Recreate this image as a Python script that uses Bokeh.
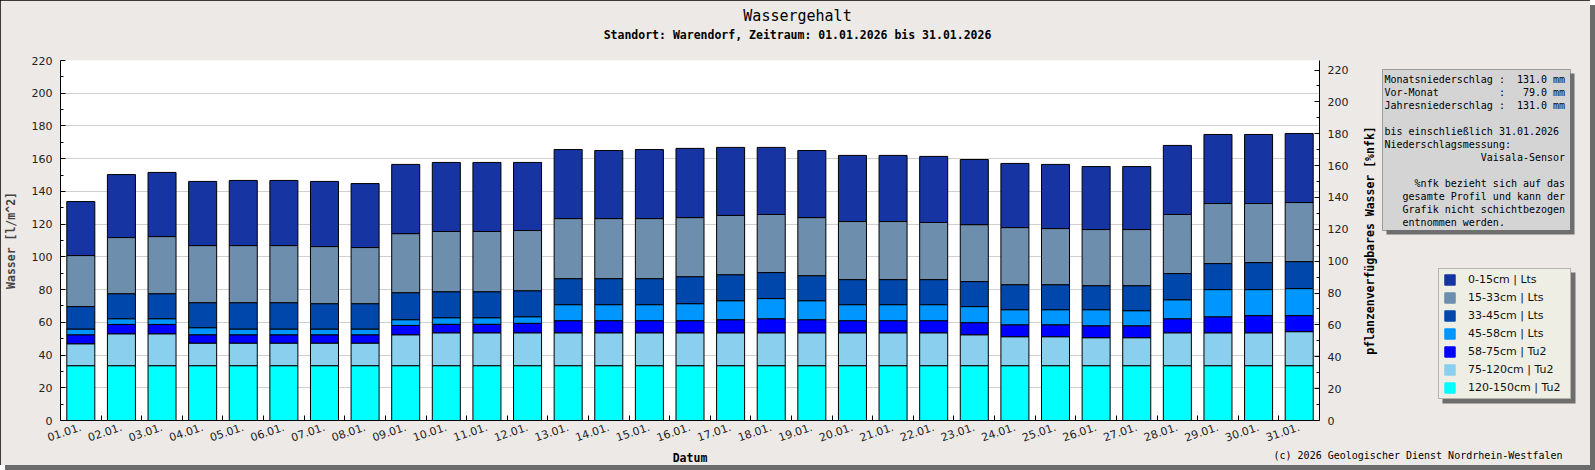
from bokeh.plotting import figure
from bokeh.models import (Range1d, LinearAxis, FixedTicker, Label, BoxAnnotation, Legend,
                          LegendItem, ColumnDataSource, GridBox)
from bokeh.embed import file_html
from bokeh.resources import INLINE

# ---------------- data ----------------
days = list(range(1, 32))
dates = ["01.01.", "02.01.", "03.01.", "04.01.", "05.01.", "06.01.", "07.01.", "08.01.",
         "09.01.", "10.01.", "11.01.", "12.01.", "13.01.", "14.01.", "15.01.", "16.01.",
         "17.01.", "18.01.", "19.01.", "20.01.", "21.01.", "22.01.", "23.01.", "24.01.",
         "25.01.", "26.01.", "27.01.", "28.01.", "29.01.", "30.01.", "31.01."]

layer_names = ["0-15cm | Lts", "15-33cm | Lts", "33-45cm | Lts", "45-58cm | Lts",
               "58-75cm | Tu2", "75-120cm | Tu2", "120-150cm | Tu2"]
layer_colors = ["#1634A2", "#6E8EAE", "#0047AB", "#0096FF", "#0000FF", "#8ACFEE", "#00FFFF"]

w_0_15 = [33.0, 38.5, 39.2, 39.2, 39.8, 39.8, 39.8, 39.1, 42.3, 42.2, 42.2, 41.6, 42.2, 41.6,
          42.2, 42.3, 41.6, 41.0, 41.0, 40.4, 40.4, 40.4, 39.8, 39.2, 39.2, 38.5, 38.5, 42.2,
          42.2, 42.2, 42.2]
w_15_33 = [31.2, 34.3, 34.9, 34.9, 34.9, 34.9, 34.9, 34.3, 36.1, 36.8, 36.8, 36.8, 36.7, 36.7,
           36.7, 36.1, 36.2, 35.5, 35.5, 35.5, 35.5, 34.9, 34.8, 34.9, 34.3, 34.3, 34.3, 36.1,
           36.7, 36.1, 36.1]
w_33_45 = [13.7, 15.3, 15.3, 15.3, 16.1, 16.1, 15.5, 15.5, 16.5, 15.9, 15.9, 15.9, 15.9, 15.9,
           15.9, 16.5, 15.9, 15.9, 15.3, 15.3, 15.3, 15.3, 15.3, 15.3, 15.3, 14.7, 15.3, 16.0,
           15.9, 16.5, 16.5]
w_45_58 = [3.5, 3.5, 3.5, 4.3, 3.5, 3.5, 3.5, 3.5, 3.5, 4.0, 4.0, 4.0, 9.8, 9.8, 9.8, 10.4,
           11.6, 12.3, 11.6, 9.8, 9.8, 9.8, 9.8, 9.2, 9.2, 9.8, 9.2, 11.6, 16.6, 15.9, 16.5]
w_58_75 = [5.5, 5.7, 5.7, 5.1, 5.1, 5.1, 5.1, 5.1, 5.7, 5.2, 5.2, 5.8, 7.4, 7.4, 7.4, 7.4,
           8.0, 8.6, 8.0, 7.4, 7.4, 7.4, 7.4, 7.3, 7.3, 7.3, 7.3, 8.6, 9.8, 10.5, 9.8]
w_75_120 = [13.4, 19.5, 19.5, 13.8, 13.8, 13.8, 13.8, 13.8, 18.9, 20.1, 20.1, 20.1, 20.1, 20.1,
            20.1, 20.1, 20.1, 20.1, 20.1, 20.1, 20.1, 20.1, 18.9, 17.7, 17.7, 17.1, 17.1, 20.1,
            20.1, 20.1, 20.8]
w_120_150 = [33.5] * 31

y_ticks_left = [0, 20, 40, 60, 80, 100, 120, 140, 160, 180, 200, 220]
y_ticks_right = [0, 20, 40, 60, 80, 100, 120, 140, 160, 180, 200, 220]

title_text = "Wassergehalt"
subtitle_text = "Standort: Warendorf, Zeitraum: 01.01.2026 bis 31.01.2026"
ylabel_left = "Wasser [l/m^2]"
ylabel_right = "pflanzenverfügbares Wasser [%nfk]"
xlabel = "Datum"
copyright_text = "(c) 2026 Geologischer Dienst Nordrhein-Westfalen"

# (text, indent in characters or "right")
info_lines = [
    ("Monatsniederschlag :  131.0 mm", 0),
    ("Vor-Monat          :   79.0 mm", 0),
    ("Jahresniederschlag :  131.0 mm", 0),
    ("", 0),
    ("bis einschließlich 31.01.2026", 0),
    ("Niederschlagsmessung:", 0),
    ("Vaisala-Sensor", "right"),
    ("", 0),
    ("%nfk bezieht sich auf das", 5),
    ("gesamte Profil und kann der", 3),
    ("Grafik nicht schichtbezogen", 3),
    ("entnommen werden.", 3),
]

# ---------------- styling constants ----------------
W, H = 1590, 465
BG = "#ECE9E7"
MONO = "DejaVu Sans Mono"
SANS = "DejaVu Sans"

# ---------------- main chart ----------------
src = ColumnDataSource(dict(day=days, l1=w_0_15, l2=w_15_33, l3=w_33_45, l4=w_45_58,
                            l5=w_58_75, l6=w_75_120, l7=w_120_150))

p = figure(width=W, height=H, x_range=Range1d(0.5, 31.5), y_range=Range1d(0, 220),
           output_backend="svg", toolbar_location=None,
           min_border_left=60, min_border_right=W - 60 - 1259, min_border_top=60,
           min_border_bottom=H - 420,
           background_fill_color="white", border_fill_color=BG, outline_line_color=None)
p.styles = {"outline": "1px solid #000000", "outline-offset": "-1px",
            "box-shadow": "5px 5px 0 0 #6b6b6b"}
p.extra_y_ranges = {"pct": Range1d(0, 226)}

stack_keys = ["l7", "l6", "l5", "l4", "l3", "l2", "l1"]
p.vbar_stack(stack_keys, x="day", width=0.69, source=src,
             fill_color=layer_colors[::-1], line_color="black", line_width=1)

xax = p.xaxis[0]
xax.ticker = FixedTicker(ticks=days, minor_ticks=[d + 0.5 for d in days[:-1]])
xax.major_label_overrides = {d: lab for d, lab in zip(days, dates)}
xax.major_label_orientation = 0.33
xax.major_tick_in = 0
xax.major_tick_out = 0
xax.minor_tick_in = 5
xax.minor_tick_out = 0
xax.major_label_standoff = 6
xax.major_label_text_font = SANS
xax.major_label_text_font_size = "11px"
xax.major_label_text_color = "#222222"
xax.axis_line_color = "black"
p.xgrid.visible = False

yax = p.yaxis[0]
lt = FixedTicker(ticks=y_ticks_left, minor_ticks=[v + 10 for v in y_ticks_left[:-1]])
yax.ticker = lt
p.ygrid.ticker = lt
p.ygrid.grid_line_color = "#CFCFCF"
yax.major_tick_in = 5
yax.major_tick_out = 0
yax.minor_tick_in = 3
yax.minor_tick_out = 0
yax.major_label_standoff = 8
yax.major_label_text_font = SANS
yax.major_label_text_font_size = "11px"
yax.major_label_text_color = "#222222"
yax.axis_label = ylabel_left
yax.axis_label_text_font = MONO
yax.axis_label_text_font_size = "11.5px"
yax.axis_label_text_font_style = "bold"
yax.axis_label_standoff = 11

rt = FixedTicker(ticks=y_ticks_right, minor_ticks=[v + 10 for v in y_ticks_right])
rax = LinearAxis(y_range_name="pct", ticker=rt)
rax.major_tick_in = 5
rax.major_tick_out = 0
rax.minor_tick_in = 3
rax.minor_tick_out = 0
rax.major_label_standoff = 8
rax.major_label_text_font = SANS
rax.major_label_text_font_size = "11px"
rax.major_label_text_color = "#222222"
p.add_layout(rax, "right")

# ---------------- overlay for texts, info box and legend (page pixel coordinates) ----------------
ov = figure(width=W, height=H, x_range=Range1d(0, W), y_range=Range1d(H, 0),
            output_backend="svg", toolbar_location=None, x_axis_type=None, y_axis_type=None,
            min_border=0, min_border_left=0, min_border_right=0, min_border_top=0,
            min_border_bottom=0, outline_line_color=None,
            background_fill_alpha=0, border_fill_alpha=0)
ov.grid.visible = False
for fig in (p, ov):
    try:
        fig.frame_align = False
    except Exception:
        pass


def lab(text, x, y, size, bold=False, align="center", base="middle", angle=0, font=MONO):
    ov.add_layout(Label(x=x, y=y, text=text, text_font=font, text_font_size=size,
                        text_align=align, text_baseline=base,
                        text_font_style="bold" if bold else "normal", text_color="black",
                        angle=angle, angle_units="deg"))


lab(title_text, 797, 15, "15px")
lab(subtitle_text, 797, 34, "11.5px", bold=True)
lab(xlabel, 689.5, 457, "11.5px", bold=True)
lab(ylabel_right, 1369, 240, "11.5px", bold=True, angle=90)
lab(copyright_text, 1562, 455, "10px", align="right")

# info box
ib_l, ib_t, ib_r, ib_b = 1382, 69, 1570, 230
ov.add_layout(BoxAnnotation(left=ib_l + 4, right=ib_r + 4, top=ib_t + 4, bottom=ib_b + 4,
                            fill_color="#6E6E6E", fill_alpha=1, line_color=None))
ov.add_layout(BoxAnnotation(left=ib_l, right=ib_r, top=ib_t, bottom=ib_b,
                            fill_color="#D4D4D4", fill_alpha=1, line_color="black",
                            line_width=1))
CH = 6.02  # char width of 10px mono
for i, (txt, ind) in enumerate(info_lines):
    if not txt:
        continue
    yy = 79 + 13 * i
    t = txt.replace("  ", "\u00a0\u00a0")
    if ind == "right":
        lab(t, ib_l + 2 + 30 * CH, yy, "10px", align="right")
    else:
        lab(t, ib_l + 2 + ind * CH, yy, "10px", align="left")

# legend: renderers with a single NaN row (nothing drawn) carry the legend glyph styles
nan = float("nan")
dummies = [ov.vbar(x="x", top="top", width=1, source=ColumnDataSource(dict(x=[nan], top=[nan])),
                   fill_color=c, line_color=c)
           for c in layer_colors]
lg_l, lg_t, lg_w, lg_h = 1438, 268, 133, 131
ov.add_layout(BoxAnnotation(left=lg_l + 4, right=lg_l + lg_w + 4, top=lg_t + 4,
                            bottom=lg_t + lg_h + 4, fill_color="#6E6E6E", fill_alpha=1,
                            line_color=None))
items = [LegendItem(label=layer_names[i], renderers=[dummies[i]]) for i in range(7)]
legend = Legend(items=items, location=(lg_l, H - (lg_t + lg_h)), orientation="vertical",
                glyph_width=13, glyph_height=13, label_height=13, label_width=98,
                label_standoff=12, spacing=5, padding=4, margin=0,
                background_fill_color="#EEEEE4", background_fill_alpha=1,
                border_line_color="#7A7A7A", border_line_width=1,
                label_text_font=SANS, label_text_font_size="11px", label_text_color="#111111")
ov.add_layout(legend)

root = GridBox(children=[(p, 0, 0), (ov, 0, 0)])
open("out.html", "w").write(file_html(root, INLINE))
